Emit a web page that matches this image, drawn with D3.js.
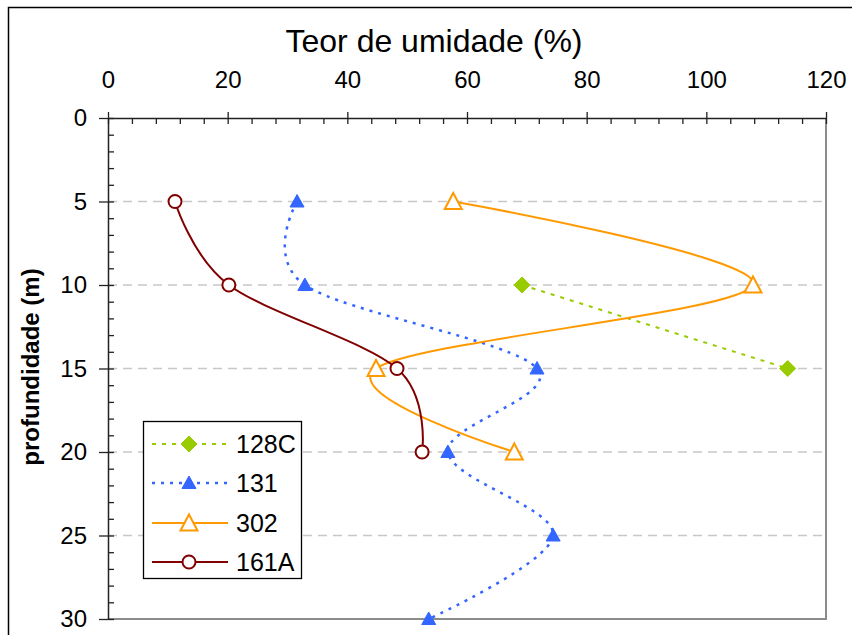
<!DOCTYPE html>
<html>
<head>
<meta charset="utf-8">
<script src="https://cdn.jsdelivr.net/npm/d3@7/dist/d3.min.js"></script>
<style>
  html, body { margin: 0; padding: 0; background: #fff; }
  svg { display: block; font-family: Arial, "Liberation Sans", sans-serif; }
</style>
</head>
<body>
<svg id="chart" width="852" height="635"></svg>
<script>
// Moisture content (%) versus depth (m) for four boreholes
const depthTicks = [0, 5, 10, 15, 20, 25, 30];
const moistureTicks = [0, 20, 40, 60, 80, 100, 120];

const depth128C = [10, 15];
const moisture128C = [69.2, 113.6];

const depth131 = [5, 10, 15, 20, 25, 30];
const moisture131 = [31.6, 32.9, 71.7, 56.8, 74.4, 53.6];

const depth302 = [5, 10, 15, 20];
const moisture302 = [57.7, 107.8, 44.8, 67.9];

const depth161A = [5, 10, 15, 20];
const moisture161A = [11.2, 20.2, 48.3, 52.5];

const seriesNames = ["128C", "131", "302", "161A"];

const series = [
  { name: seriesNames[0], depth: depth128C, moisture: moisture128C,
    color: "#99cc00", dash: "4,6", width: 2, marker: "diamond" },
  { name: seriesNames[1], depth: depth131, moisture: moisture131,
    color: "#3366ff", dash: "3,6", width: 2.5, marker: "triangleFilled" },
  { name: seriesNames[2], depth: depth302, moisture: moisture302,
    color: "#ff9900", dash: null, width: 2, marker: "triangleOpen" },
  { name: seriesNames[3], depth: depth161A, moisture: moisture161A,
    color: "#800000", dash: null, width: 2, marker: "circleOpen" }
];

const svg = d3.select("#chart");
const plotLeft = 108, plotRight = 826, plotTop = 118, plotBottom = 619;

const x = d3.scaleLinear().domain([0, 120]).range([plotLeft, plotRight]);
const y = d3.scaleLinear().domain([0, 30]).range([plotTop, plotBottom]);

// Outer chart frame
svg.append("rect")
  .attr("x", 8.5).attr("y", 7.5)
  .attr("width", 860).attr("height", 640)
  .attr("fill", "#fff").attr("stroke", "#000").attr("stroke-width", 1.5);

// Horizontal dashed gridlines
svg.append("g")
  .selectAll("line")
  .data(depthTicks.filter(d => d > 0 && d < 30))
  .join("line")
  .attr("x1", plotLeft).attr("x2", plotRight)
  .attr("y1", d => y(d)).attr("y2", d => y(d))
  .attr("stroke", "#c8c8c8").attr("stroke-width", 1.3)
  .attr("stroke-dasharray", "9,6");

// Plot area border (right and bottom)
svg.append("path")
  .attr("d", `M${plotRight},${plotTop}V${plotBottom}H${plotLeft}`)
  .attr("fill", "none").attr("stroke", "#8c8c8c").attr("stroke-width", 2);

// Top axis: minor ticks every 4 %, majors every 20 %
const minorX = d3.range(0, 121, 4).filter(v => v % 20 !== 0);
const xMinor = svg.append("g").attr("transform", `translate(0,${plotTop})`)
  .call(d3.axisTop(x).tickValues(minorX).tickSize(-6).tickFormat(""));
xMinor.select(".domain").remove();
const xMajor = svg.append("g").attr("transform", `translate(0,${plotTop})`)
  .call(d3.axisTop(x).tickValues(moistureTicks).tickSizeInner(6).tickSizeOuter(0).tickPadding(24));
xMajor.selectAll(".tick line").attr("y2", -6).attr("y1", 6);
xMajor.selectAll(".tick text").attr("font-size", 24).attr("fill", "#000")
  .attr("font-family", "Arial, 'Liberation Sans', sans-serif");
[xMinor, xMajor].forEach(g => g.selectAll(".tick line").attr("stroke", "#222").attr("stroke-width", 1.3));
xMajor.select(".domain").attr("stroke", "#222").attr("stroke-width", 1.5);

// Left axis: minor ticks every 1 m, majors every 5 m
const minorY = d3.range(0, 31, 1).filter(v => v % 5 !== 0);
const yMinor = svg.append("g").attr("transform", `translate(${plotLeft},0)`)
  .call(d3.axisLeft(y).tickValues(minorY).tickSize(-6).tickFormat(""));
yMinor.select(".domain").remove();
const yMajor = svg.append("g").attr("transform", `translate(${plotLeft},0)`)
  .call(d3.axisLeft(y).tickValues(depthTicks).tickSizeInner(9).tickSizeOuter(0).tickPadding(12));
yMajor.selectAll(".tick line").attr("x1", 6);
yMajor.selectAll(".tick text").attr("font-size", 24).attr("fill", "#000")
  .attr("font-family", "Arial, 'Liberation Sans', sans-serif");
[yMinor, yMajor].forEach(g => g.selectAll(".tick line").attr("stroke", "#222").attr("stroke-width", 1.3));
yMajor.select(".domain").attr("stroke", "#222").attr("stroke-width", 1.5);

// Axis titles
svg.append("text")
  .attr("x", 434).attr("y", 52)
  .attr("text-anchor", "middle")
  .attr("font-size", 32)
  .text("Teor de umidade (%)");

svg.append("text")
  .attr("transform", `translate(39,367) rotate(-90)`)
  .attr("text-anchor", "middle")
  .attr("font-size", 24).attr("font-weight", "bold")
  .text("profundidade (m)");

// Marker drawing
function drawMarker(g, type, color) {
  if (type === "diamond") {
    g.append("path").attr("d", "M0,-8L8,0L0,8L-8,0Z")
      .attr("fill", color).attr("stroke", color).attr("stroke-width", 1);
  } else if (type === "triangleFilled") {
    g.append("path").attr("d", "M0,-7L7,5.5L-7,5.5Z")
      .attr("fill", color).attr("stroke", color).attr("stroke-width", 1);
  } else if (type === "triangleOpen") {
    g.append("path").attr("d", "M0,-8.5L8.5,7.5L-8.5,7.5Z")
      .attr("fill", "#fff").attr("stroke", color).attr("stroke-width", 2);
  } else if (type === "circleOpen") {
    g.append("circle").attr("r", 6.5)
      .attr("fill", "#fff").attr("stroke", color).attr("stroke-width", 2);
  }
}

const line = d3.line()
  .x(d => x(d.m))
  .y(d => y(d.z))
  .curve(d3.curveCardinal.tension(0));

const plot = svg.append("g");
series.forEach(s => {
  const pts = s.depth.map((z, i) => ({ z, m: s.moisture[i] }));
  plot.append("path")
    .datum(pts)
    .attr("d", line)
    .attr("fill", "none")
    .attr("stroke", s.color)
    .attr("stroke-width", s.width)
    .attr("stroke-dasharray", s.dash);
  pts.forEach(p => {
    const g = plot.append("g").attr("transform", `translate(${x(p.m)},${y(p.z)})`);
    drawMarker(g, s.marker, s.color);
  });
});

// Legend
const legend = svg.append("g");
legend.append("rect")
  .attr("x", 143.5).attr("y", 421.5)
  .attr("width", 158).attr("height", 157)
  .attr("fill", "#fff").attr("stroke", "#000").attr("stroke-width", 1.3);
const legendY = [444, 483, 523, 562];
series.forEach((s, i) => {
  const ly = legendY[i];
  legend.append("line")
    .attr("x1", 152).attr("x2", 228)
    .attr("y1", ly).attr("y2", ly)
    .attr("stroke", s.color).attr("stroke-width", s.width)
    .attr("stroke-dasharray", s.dash);
  const g = legend.append("g").attr("transform", `translate(189,${ly})`);
  drawMarker(g, s.marker, s.color);
  legend.append("text")
    .attr("x", 236).attr("y", ly)
    .attr("dy", "0.35em")
    .attr("font-size", 25)
    .text(s.name);
});
</script>
</body>
</html>
